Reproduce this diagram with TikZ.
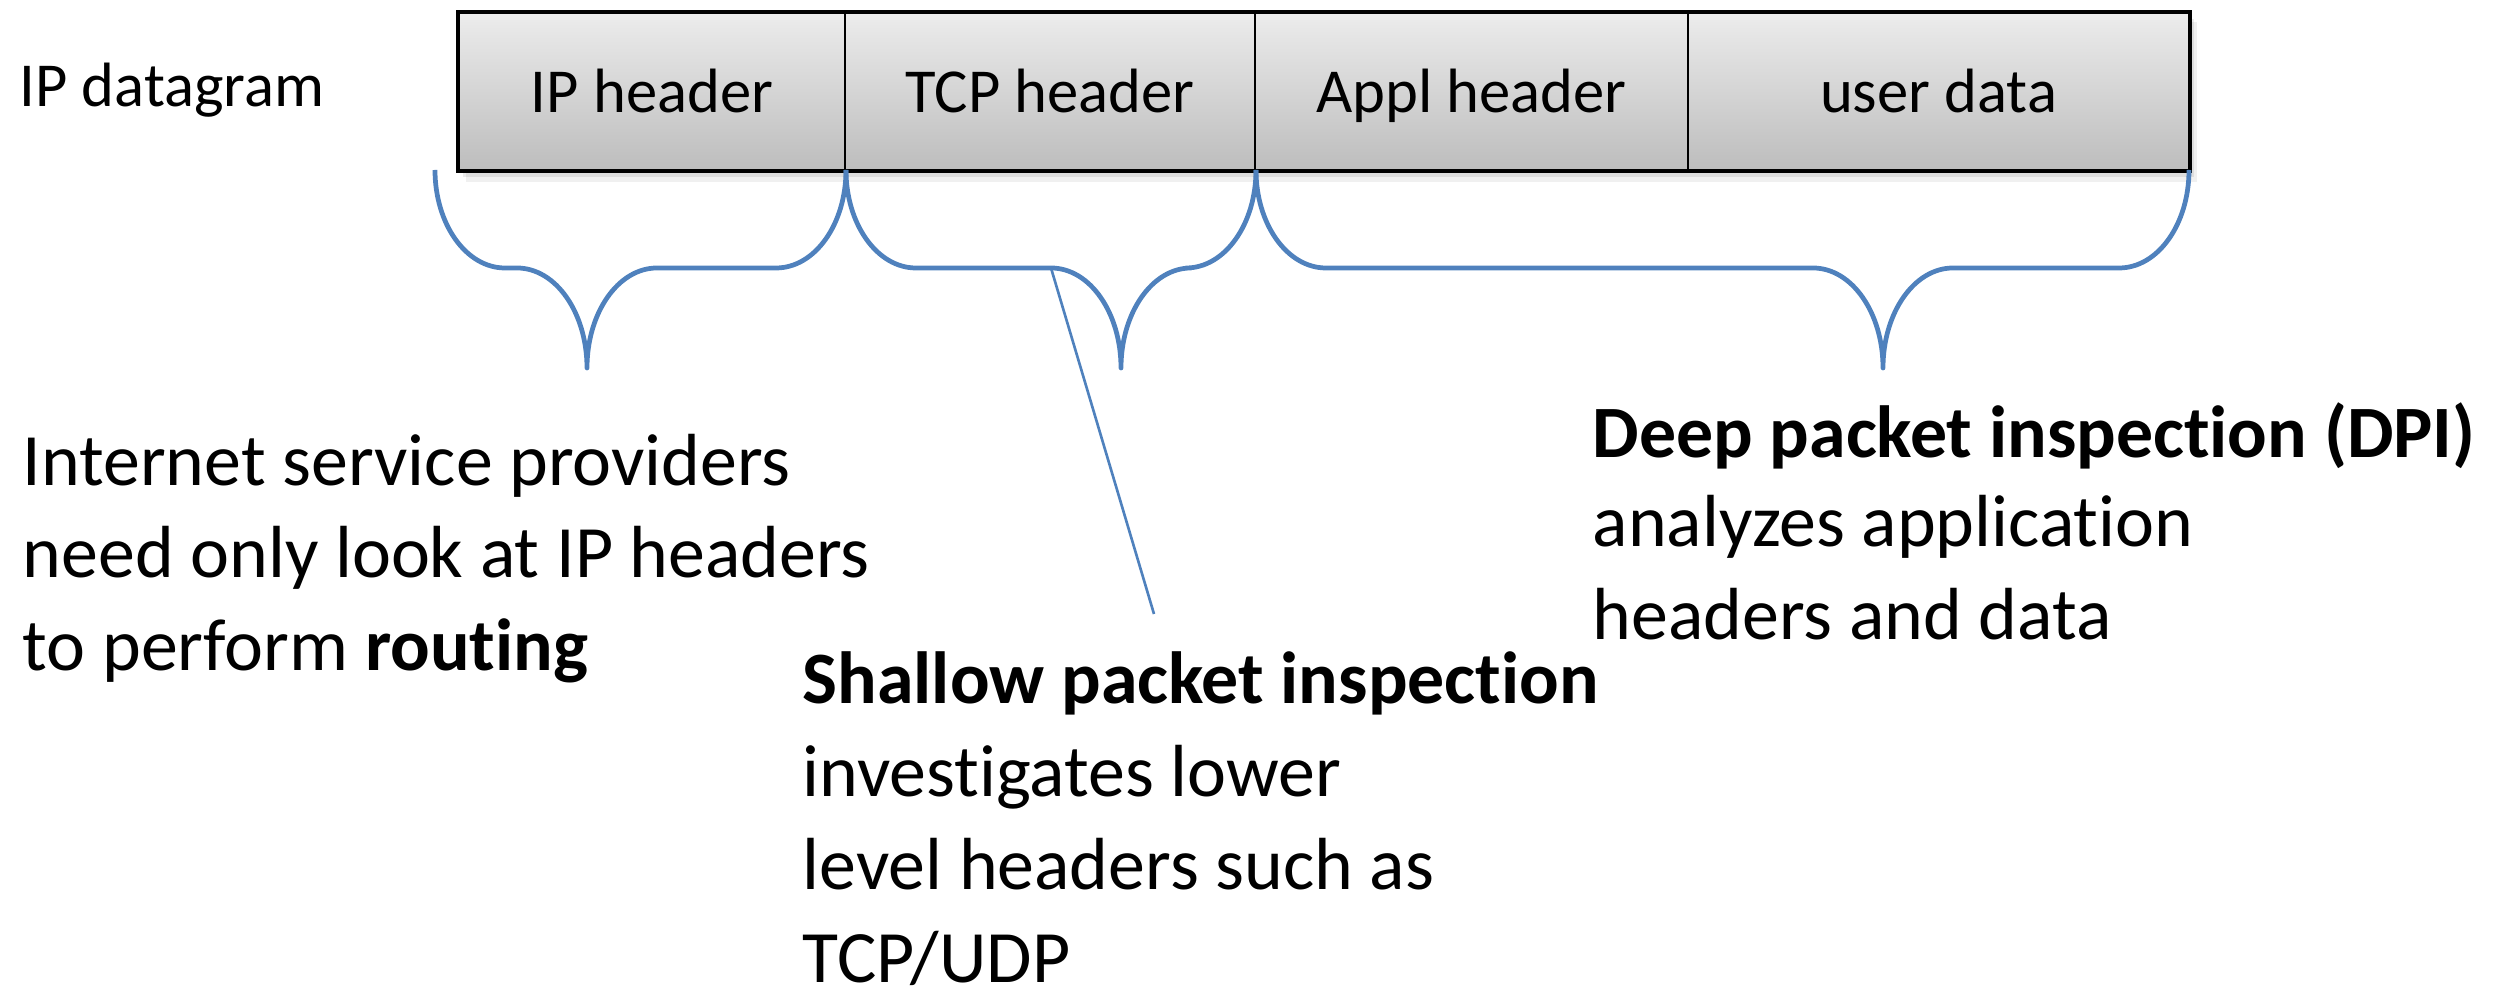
\documentclass[tikz,border=0pt]{standalone}
\usepackage{fontspec}
\setmainfont{Carlito}[Ligatures=NoCommon]
\definecolor{bracecol}{RGB}{79,129,189}
\definecolor{celltop}{RGB}{236,236,236}
\definecolor{cellbot}{RGB}{189,189,189}

\begin{document}
\begin{tikzpicture}[x=0.01cm,y=-0.01cm,
  labelfont/.style={font=\fontsize{17.8}{21}\selectfont},
  cell/.style={draw=black,line width=0.6pt,top color=celltop,bottom color=cellbot,
    minimum height=1.57cm,inner sep=0pt,text height=12.2pt,text depth=0pt,labelfont},
  brace/.style={draw=bracecol,line width=1.35pt,line join=round},
  body/.style={anchor=base west,inner sep=0pt,font=\fontsize{21}{25}\selectfont},
  pointer/.style={draw=bracecol,line width=0.75pt}]
\useasboundingbox (0,0) rectangle (2514,992);

% soft shadow under the datagram
\fill[black,opacity=0.06] (466,22) rectangle (2197,182);
\fill[black,opacity=0.08] (463,19) rectangle (2194,177);

% datagram fields
\node[cell,minimum width=3.86cm] (iphdr) at (652,91.5) {IP header};
\node[cell,minimum width=4.10cm] (tcphdr) at (1050,91.5) {TCP header};
\node[cell,minimum width=4.33cm] (applhdr) at (1471.5,91.5) {Appl header};
\node[cell,minimum width=5.01cm] (udata) at (1938.5,91.5) {user data};
\draw[line width=1.2pt] (iphdr.north west) rectangle (udata.south east);

\node[anchor=base west,inner sep=0pt,labelfont] (dgram) at (19,107) {IP datagram};

% curly braces under the fields
\foreach \a/\t/\b in {435/587/846, 846/1121/1256, 1256/1883/2189}
  \draw[brace] (\a,170) .. controls (\a,224) and (\a+31,268) .. (\a+70,268)
    -- (\t-70,268) .. controls (\t-31,268) and (\t,313) .. (\t,368)
    .. controls (\t,313) and (\t+31,268) .. (\t+70,268)
    -- (\b-70,268) .. controls (\b-31,268) and (\b,224) .. (\b,170);

% pointer from the TCP brace to its description
\coordinate (spitop) at (1051,268);
\coordinate (spiend) at (1154,614);
\draw[pointer] (spitop) -- (spiend);

% descriptions
\node[body] (isp1) at (22,486) {Internet service providers};
\node[body] (isp2) at (22,578) {need only look at IP headers};
\node[body] (isp3) at (22,671) {to perform \textbf{routing}};

\node[body] (spi1) at (802,704) {\textbf{Shallow packet inspection}};
\node[body] (spi2) at (802,797) {investigates lower};
\node[body] (spi3) at (802,890) {level headers such as};
\node[body] (spi4) at (802,983) {TCP/UDP};

\node[body] (dpi1) at (1592,458) {\textbf{Deep packet inspection (DPI)}};
\node[body] (dpi2) at (1592,547) {analyzes application};
\node[body] (dpi3) at (1592,640) {headers and data};
\end{tikzpicture}
\end{document}
